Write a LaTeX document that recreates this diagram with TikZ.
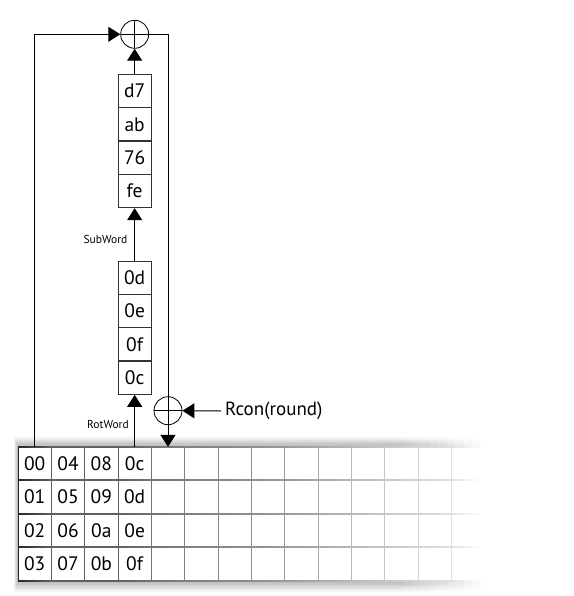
\documentclass[tikz,border=0pt]{standalone}
\usepackage{fontspec}
\setmainfont{PT Sans}
\usetikzlibrary{arrows.meta,fadings}
\tikzfading[name=fadeout, left color=transparent!0, right color=transparent!100]
\begin{document}
\begin{tikzpicture}[x=1pt,y=-1pt,
  arr/.style={-{Triangle[width=15pt,length=12pt]}, line width=1pt},
  box/.style={draw=black!80, line width=1pt, minimum width=33.3pt, minimum height=33.3pt, inner sep=0pt, font=\fontsize{19.5}{21}\selectfont},
  cell/.style={minimum width=33.3pt, minimum height=33.3pt, inner sep=0pt, font=\fontsize{19.5}{21}\selectfont},
  xor/.style={circle, draw, line width=0.8pt, minimum size=28pt, inner sep=0pt,
    path picture={\draw[line width=0.8pt] (path picture bounding box.north) -- (path picture bounding box.south) (path picture bounding box.west) -- (path picture bounding box.east);}},
  lbl/.style={font=\fontsize{11.5}{13}\selectfont, inner sep=0pt},
]
\useasboundingbox (0,0) rectangle (573,596);

% shadow of the state grid
\foreach \k in {1,...,8} {
  \fill[black, opacity=0.04] ({18-0.5*\k},{447-1.2*\k}) rectangle (400,{580.5+1.4*\k});
  \fill[black, opacity=0.04, path fading=fadeout] (400,{447-1.2*\k}) rectangle (484,{580.5+1.4*\k});
}
\fill[white] (18,447) rectangle (486,580.5);

% grid lines, fading to the right
\def\lvls{{85,62,62,62,55,50,47,44,40,34,28,22,17,12,0}}
\foreach \j in {0,...,4} {
  \foreach \c in {0,...,13} {
    \pgfmathsetmacro\la{\lvls[\c]}
    \pgfmathsetmacro\lb{\lvls[\c+1]}
    \shade[left color=black!\la, right color=black!\lb]
      ({18+33.333*\c},{447+33.375*\j-0.5}) rectangle ({min(18+33.333*(\c+1),481)},{447+33.375*\j+0.5});
  }
}
\foreach \i in {0,...,13} {
  \pgfmathsetmacro\lv{\lvls[\i]}
  \draw[line width=1pt, draw=black!\lv] ({18+33.333*\i},446.5) -- ({18+33.333*\i},581);
}

% cell texts
\foreach \r/\a/\b/\c/\d in {0/00/04/08/0c, 1/01/05/09/0d, 2/02/06/0a/0e, 3/03/07/0b/0f} {
  \node[cell] (c-\r-0) at (34.67,{463.7+33.375*\r}) {\a};
  \node[cell] (c-\r-1) at (68.0,{463.7+33.375*\r}) {\b};
  \node[cell] (c-\r-2) at (101.33,{463.7+33.375*\r}) {\c};
  \node[cell] (c-\r-3) at (134.67,{463.7+33.375*\r}) {\d};
}
\node[cell] (c-0-4) at (168,463.7) {};

% SubWord result
\node[box] (t1) at (134.67,91) {d7};
\node[box] (t2) at (134.67,124.3) {ab};
\node[box] (t3) at (134.67,157.7) {76};
\node[box] (t4) at (134.67,191) {fe};

% RotWord result
\node[box] (b1) at (134.67,277.7) {0d};
\node[box] (b2) at (134.67,311) {0e};
\node[box] (b3) at (134.67,344.3) {0f};
\node[box] (b4) at (134.67,377.7) {0c};

% xor nodes
\node[xor] (x1) at (134.67,34.3) {};
\node[xor] (x2) at (168,410.7) {};

% labels
\node[lbl] (sub) at (105.5,239) {SubWord};
\node[lbl] (rot) at (108,424) {RotWord};
\node[font=\fontsize{19}{21}\selectfont, anchor=west, inner xsep=4pt, inner ysep=0pt] (rcon) at (221,411) {Rcon(round)};

% connectors
\draw[arr] (c-0-3.north) -- (b4.south);
\draw[arr] (b1.north) -- (t4.south);
\draw[arr] (t1.north) -- (x1.south);
\draw[arr] (c-0-0.north) |- (x1.west);
\draw[arr] (x1.east) -| (c-0-4.north);
\draw[arr] (rcon.west) -- (x2.east);
\end{tikzpicture}
\end{document}
